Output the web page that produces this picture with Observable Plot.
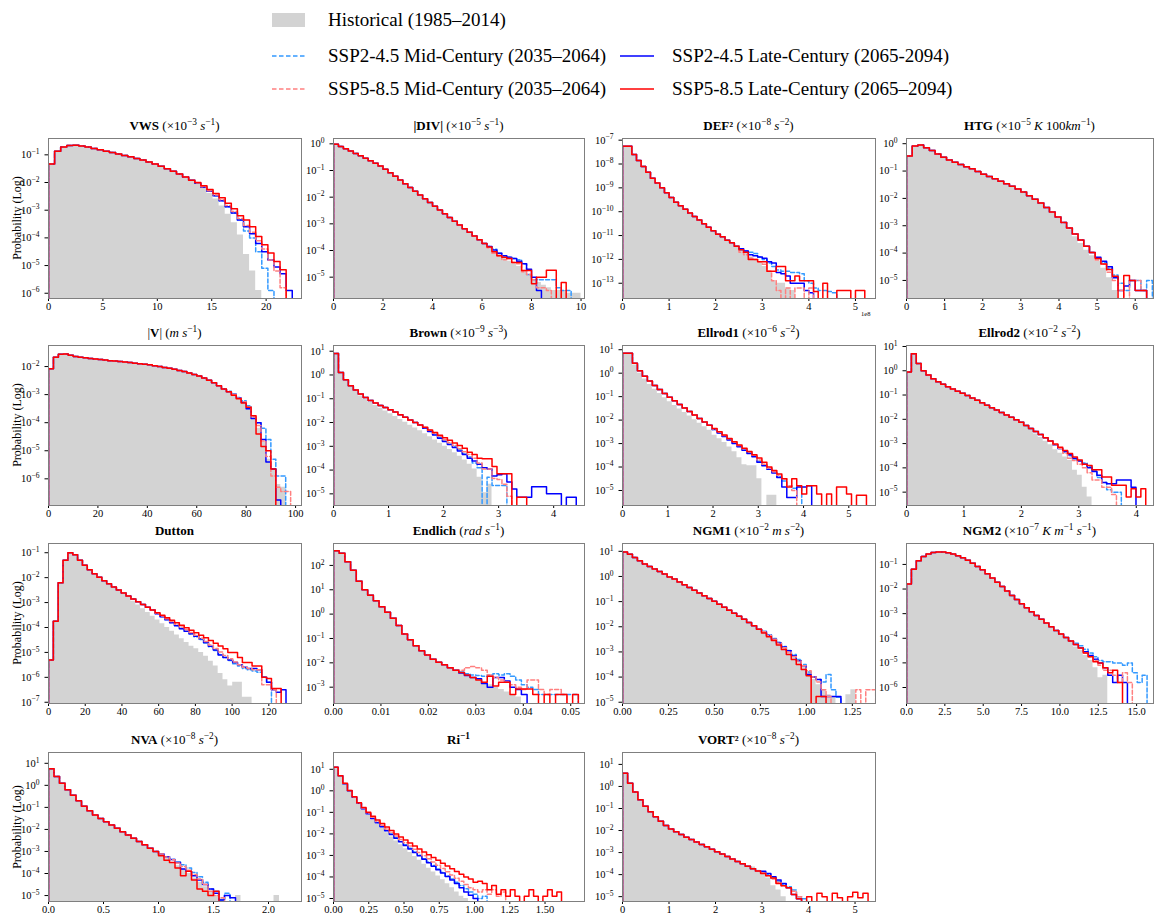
<!DOCTYPE html>
<html><head><meta charset="utf-8">
<script src="https://cdn.jsdelivr.net/npm/d3@7"></script>
<script src="https://cdn.jsdelivr.net/npm/@observablehq/plot@0.6"></script>
<style>
body{margin:0;background:#fff;}
#fig{position:relative;width:1156px;height:914px;overflow:hidden;font-family:"Liberation Serif","DejaVu Serif",serif;color:#000;}
.abs{position:absolute;}
.ttl{position:absolute;width:300px;text-align:center;font-size:13px;line-height:14px;white-space:nowrap;}
.ttl sup{font-size:0.72em;line-height:0;}
.ylab{position:absolute;width:200px;text-align:center;font-size:12px;line-height:14px;transform:rotate(-90deg);}
.leg{position:absolute;font-size:19px;line-height:22px;white-space:nowrap;}
svg{overflow:visible;}
</style></head>
<body><div id="fig"></div>
<script>
// ---------- DATA: log10(probability) per histogram bin (null = empty bin) ----------
// VWS, bin width 0.56
const vwsBody=[-1.33,-0.87,-0.72,-0.66,-0.65,-0.68,-0.72,-0.77,-0.82,-0.87,-0.92,-0.97,-1.02,-1.07,-1.13,-1.19,-1.26,-1.33,-1.41,-1.50,-1.59,-1.69,-1.80,-1.92];
const vwsHistTail=[-2.06,-2.22,-2.4,-2.6,-2.85,-3.15,-3.45,-3.9,-4.6,-5.2,-5.9];
const vwsM245Tail=[-2.03,-2.17,-2.32,-2.48,-2.66,-2.88,-3.1,-3.35,-3.75,-4.0,-4.5,-5.1,-5.9];
const vwsL245Tail=[-2.03,-2.17,-2.32,-2.48,-2.66,-2.88,-3.1,-3.35,-3.6,-3.85,-4.2,-4.5,-4.8,-5.05,-5.3,-5.9];
const vwsM585Tail=[-2.02,-2.15,-2.3,-2.45,-2.62,-2.83,-3.05,-3.3,-3.55,-3.8,-4.1,-4.4,-4.8,-5.2,-5.8];
const vwsL585Tail=[-2.0,-2.12,-2.25,-2.4,-2.55,-2.75,-2.95,-3.2,-3.35,-3.6,-3.95,-4.25,-4.55,-4.85,-5.15];
// |DIV|, bin width 0.2
const divBody=[-0.02,-0.1,-0.18,-0.27,-0.36,-0.45,-0.54,-0.63,-0.73,-0.83,-0.95,-1.08,-1.22,-1.36,-1.5,-1.64,-1.78,-1.92,-2.06,-2.2,-2.34,-2.48,-2.62,-2.76,-2.9,-3.04,-3.18,-3.32,-3.46,-3.6,-3.74];
const divHistTail=[-3.9,-4.05,-4.15,-4.25,-4.4,-4.5,-4.6,-4.75,-4.9,-5.1,-5.2,-5.3,-5.4,-5.5,-5.5,-5.5,-5.6,-5.6,-5.6];
const divM245Tail=[-3.85,-3.95,-4.1,-4.2,-4.25,-4.3,-4.35,-4.5,-4.9,-5.1,-5.1,-5.1,-5.1,-5.1,-5.4,-5.5,-5.5];
const divL245Tail=[-3.85,-3.98,-4.1,-4.2,-4.25,-4.3,-4.4,-4.5,-4.7,-5.0,-5.5];
const divM585Tail=[-3.9,-4.1,-4.2,-4.35,-4.3,-4.45,-4.5,-4.8,-4.9,-5.1,-5.4,-5.4,-5.5];
const divL585Tail=[-3.87,-4.05,-4.2,-4.25,-4.3,-4.45,-4.45,-4.75,-4.75,-5.25,-5.0,-5.0,-4.74,-4.74,null,-5.2];
// DEF², bin width 0.1
const defBody=[-7.25,-7.25,-7.6,-7.85,-8.1,-8.35,-8.6,-8.8,-9.0,-9.2,-9.4,-9.6,-9.75,-9.9,-10.05,-10.2,-10.35,-10.5,-10.65,-10.8,-10.95,-11.05,-11.2,-11.3,-11.45];
const defHistTail=[-11.6,-11.75,-11.9,-12.0,-12.15,-12.3,-12.5,-12.9,-13.0,-13.0,-13.2,-13.3];
const defM245Tail=[-11.6,-11.65,-11.7,-11.75,-11.9,-12.0,-12.15,-12.3,-12.45,-12.5,-12.5,-12.55,-12.55,-12.6,-12.9,-13.0,-13.2,-13.3,-13.3,-13.35,-13.4];
const defL245Tail=[-11.55,-11.65,-11.8,-11.85,-11.9,-11.95,-12.1,-12.15,-12.55,-12.6,-12.7,-13.0,-13.0,-13.0,-13.3,-13.4];
const defM585Tail=[-11.7,-11.8,-11.95,-12.0,-12.1,-12.2,-12.5,-12.9,-13.3,null,-13.2,null,-13.2,-13.2,null,-13.2];
const defL585Tail=[-11.6,-11.7,-12.0,-12.0,-12.1,-12.1,-12.5,-12.5,-12.3,-12.3,-12.9,-12.9,-12.7,-12.9,-12.9,-12.9,-13.35,null,-13.0,null,null,-13.3,-13.3,-13.3,null,-13.3,-13.3];
// HTG, bin width 0.15
const htgBody=[-0.45,-0.08,-0.05,-0.15,-0.25,-0.38,-0.5,-0.6,-0.68,-0.76,-0.84,-0.92,-1.02,-1.12,-1.2,-1.28,-1.37,-1.46,-1.56,-1.66,-1.77,-1.9,-2.03,-2.17,-2.33,-2.5,-2.68,-2.88,-3.08,-3.3,-3.52,-3.75,-3.98];
const htgHistTail=[-2.95,-3.15,-3.4,-3.65,-3.9,-4.1,-4.3,-4.55,-4.9,-5.37];
const htgM245Tail=[-4.2,-4.35,-4.55,-4.8,-5.1,-5.37,-5.0,-5.0,-5.37,-5.0];
const htgL245Tail=[-4.15,-4.3,-4.5,-4.9,-5.37,-5.2,-5.0,-5.37,-5.37];
const htgM585Tail=[-4.25,-4.4,-4.7,-5.0,-5.37,null,-5.0,-5.0,-5.37];
const htgL585Tail=[-4.2,-4.4,-4.6,-4.85,null,-4.82,-5.0,-5.37,-5.37];
// |V|, bin width 2
const wsBody=[-2.08,-1.67,-1.56,-1.55,-1.6,-1.64,-1.67,-1.69,-1.71,-1.73,-1.75,-1.77,-1.79,-1.8,-1.82,-1.84,-1.86,-1.88,-1.9,-1.92,-1.94,-1.97,-2.0,-2.03,-2.06,-2.1,-2.14,-2.18,-2.23,-2.28,-2.34,-2.41,-2.49,-2.58,-2.68,-2.8];
const wsHistTail=[-2.9,-3.02,-3.15,-3.3,-3.5,-3.85,-4.2,-4.7,-5.3,-5.7,-6.2,-6.3];
const wsM245Tail=[-2.88,-2.98,-3.1,-3.22,-3.4,-3.8,-4.0,-4.2,-4.6,-5.3,-5.9,-5.9];
const wsL245Tail=[-2.9,-3.0,-3.12,-3.27,-3.5,-3.85,-4.0,-4.6,-5.4,-5.65,-6.75];
const wsM585Tail=[-2.9,-3.0,-3.12,-3.25,-3.45,-3.8,-4.1,-4.65,-5.2,-5.9,-6.3,-6.45,-6.45];
const wsL585Tail=[-2.9,-3.02,-3.15,-3.3,-3.45,-3.75,-4.4,-4.85,-5.0,-5.65];
// Brown, bin width 0.09
const brownHist=[0.9,0.1,-0.22,-0.5,-0.7,-0.88,-1.03,-1.16,-1.28,-1.4,-1.52,-1.63,-1.75,-1.87,-1.99,-2.11,-2.23,-2.35,-2.47,-2.6,-2.73,-2.87,-3.0,-3.13,-3.27,-3.42,-3.58,-3.75,-3.95,-4.3,-4.95,-4.6];
const brownBody=[0.9,0.1,-0.2,-0.45,-0.63,-0.8,-0.95,-1.07,-1.18,-1.28,-1.37,-1.46,-1.56,-1.67,-1.78,-1.89,-2.0,-2.1];
const brownM245Tail=[-2.22,-2.35,-2.48,-2.62,-2.78,-2.9,-3.0,-3.15,-3.3,-3.45,-3.7,-3.9,null,-4.3,-4.65,-4.65,-4.65];
const brownL245Tail=[-2.24,-2.38,-2.52,-2.66,-2.8,-2.92,-3.05,-3.2,-3.35,-3.5,-3.62,-3.75,-3.9,-3.95,-4.25,-4.2,-4.15,-4.5,-4.8,-5.14,-5.14,-5.14,-4.7,-4.7,-4.7,-5.0,-5.0,-5.0,null,-5.14,-5.14];
const brownM585Tail=[-2.21,-2.33,-2.45,-2.58,-2.72,-2.85,-2.97,-3.1,-3.23,-3.35,-3.5,-3.7,-3.95,-3.95,-4.35,-4.4,-4.6,-5.1];
const brownL585Tail=[-2.2,-2.31,-2.42,-2.53,-2.64,-2.75,-2.86,-2.97,-3.08,-3.25,-3.35,-3.5,-3.52,-3.52,-3.85,-4.15,-4.15,-4.15,null,-5.14,-5.14];
// Ellrod1, bin width 0.11
const e1Hist=[0.85,0.85,0.35,0.0,-0.25,-0.48,-0.68,-0.87,-1.05,-1.22,-1.38,-1.53,-1.68,-1.83,-1.98,-2.13,-2.28,-2.43,-2.65,-2.8,-2.95,-3.15,-3.35,-3.6,-3.9,-3.95,-3.95,-4.5,null,-5.2,-5.2];
const e1Body=[0.85,0.85,0.42,0.1,-0.13,-0.33,-0.52,-0.7,-0.87,-1.03,-1.18,-1.33,-1.48,-1.63,-1.78,-1.93,-2.08,-2.22];
const e1M245Tail=[-2.4,-2.54,-2.68,-2.82,-2.96,-3.1,-3.24,-3.38,-3.52,-3.75,-3.9,-4.05,-4.2,-4.4,-4.6,-4.8,-4.9,-4.8];
const e1L245Tail=[-2.4,-2.55,-2.7,-2.85,-3.0,-3.14,-3.28,-3.42,-3.56,-3.8,-3.95,-4.1,-4.25,-4.45,-4.85,-5.3,-5.3,-4.85,-4.85,-4.8];
const e1M585Tail=[-2.38,-2.52,-2.66,-2.8,-2.94,-3.08,-3.22,-3.36,-3.5,-3.7,-3.88,-4.05,-4.2,-4.35,-4.5,-4.8,-5.0];
const e1L585Tail=[-2.36,-2.5,-2.64,-2.78,-2.92,-3.06,-3.2,-3.34,-3.48,-3.62,-3.8,-4.0,-4.15,-4.3,-4.5,-4.85,-4.5,-4.8,-5.15,-4.8,-4.8,-5.15,null,-5.15,null,-4.85,-4.85,-5.15,null,-5.2,-5.2];
// Ellrod2, bin width 0.085
const e2Body=[-0.05,0.7,0.3,0.0,-0.18,-0.33,-0.45,-0.56,-0.66,-0.75,-0.84,-0.93,-1.02,-1.12,-1.22,-1.32,-1.42,-1.52,-1.62,-1.72,-1.82,-1.92,-2.02,-2.12,-2.25,-2.38,-2.5,-2.63,-2.76,-2.89];
const e2HistTail=[-2.6,-2.75,-2.9,-3.05,-3.25,-3.4,-3.55,-3.7,-4.1,-4.3,-4.8,-5.2];
const e2M245Tail=[-3.05,-3.2,-3.35,-3.5,-3.63,-3.7,-3.8,-3.95,-4.1,-4.4,-4.6,-4.9,-5.0,-5.0];
const e2L245Tail=[-3.05,-3.2,-3.33,-3.46,-3.6,-3.72,-3.85,-4.0,-4.15,-4.3,-4.6,-4.65,-4.65,-4.5,-4.5,-4.5,-4.8];
const e2M585Tail=[-3.05,-3.2,-3.4,-3.6,-3.7,-3.85,-4.0,-4.2,-4.5,-4.5,-4.8,-4.8,-5.1];
const e2L585Tail=[-3.02,-3.15,-3.28,-3.41,-3.55,-3.68,-3.85,-3.9,-4.08,-4.08,-4.38,-4.38,-4.72,-4.72,-4.72,-5.2,-4.86,-5.2,-4.86];
// Dutton, bin width 2.64
const dutBody=[-5.3,-3.75,-2.2,-1.3,-1.0,-1.08,-1.3,-1.5,-1.68,-1.84,-1.98,-2.12,-2.25,-2.38,-2.5,-2.62,-2.74,-2.86,-2.97,-3.08,-3.19,-3.3];
const dutHistTail=[-2.8,-2.95,-3.1,-3.25,-3.4,-3.55,-3.7,-3.85,-4.0,-4.15,-4.3,-4.45,-4.6,-4.75,-4.85,-5.0,-5.15,-5.35,-5.55,-5.85,-6.1,-6.35,-6.2,-6.2,-6.8,-6.8];
const dutM245Tail=[-3.44,-3.56,-3.68,-3.8,-3.92,-4.04,-4.15,-4.26,-4.37,-4.48,-4.62,-4.77,-4.92,-5.08,-5.2,-5.32,-5.45,-5.55,-5.65,-5.7,-5.75,-5.8,-6.0,-6.2];
const dutL245Tail=[-3.45,-3.57,-3.69,-3.81,-3.93,-4.05,-4.15,-4.25,-4.35,-4.45,-4.6,-4.75,-4.9,-5.1,-5.2,-5.3,-5.4,-5.5,-5.6,-5.65,-5.65,-5.7,-6.0,-6.2,-6.5,-6.6,-6.5];
const dutM585Tail=[-3.43,-3.54,-3.65,-3.76,-3.87,-3.98,-4.09,-4.2,-4.31,-4.43,-4.56,-4.7,-4.84,-4.98,-5.12,-5.25,-5.38,-5.5,-5.6,-5.65,-5.7,-5.7,-6.3,-6.3,-6.5];
const dutL585Tail=[-3.41,-3.51,-3.61,-3.71,-3.81,-3.91,-4.01,-4.11,-4.21,-4.31,-4.41,-4.52,-4.63,-4.74,-4.85,-5.0,-5.0,-5.2,-5.4,-5.4,-5.55,-5.55,-6.0,-6.05,-6.45,-6.45];
// Endlich, bin width 0.0012
const endBody=[2.6,2.5,2.15,1.8,1.35,1.0,0.78,0.55,0.3,0.08,-0.17,-0.47,-0.82,-1.05,-1.3,-1.5,-1.68,-1.85,-1.98,-2.08,-2.2,-2.3];
const endHistTail=[-2.4,-2.5,-2.6,-2.7,-2.8,-2.9,-3.0,-3.1,-3.2,-3.3,-3.4];
const endM245Tail=[-2.38,-2.45,-2.5,-2.52,-2.55,-2.5,-2.45,-2.5,-2.45,-2.55,-2.7,-2.9,-3.0,-3.1,-3.3,-3.3,-3.3,-3.3,-3.3,-3.3,-3.3];
const endL245Tail=[-2.42,-2.52,-2.6,-2.65,-2.85,-3.0,-2.6,-2.6,-2.75,-3.0,-3.1,-3.3];
const endM585Tail=[-2.3,-2.2,-2.15,-2.2,-2.3,-2.5,-2.6,-2.7,-2.8,-2.9,-3.0,-3.1,-2.7,-2.7,-3.1,-3.3,-3.1,-3.1,-3.3];
const endL585Tail=[-2.4,-2.5,-2.6,-2.7,-2.8,-2.55,-2.95,-2.8,-2.8,-3.3,-3.07,-3.07,-3.07,-3.3,null,-3.3,null,-3.3,-3.3,null,-3.3];
// NGM1, bin width 0.027
const n1Body=[0.97,0.88,0.75,0.62,0.5,0.4,0.3,0.2,0.1,-0.02,-0.1,-0.22,-0.33,-0.44,-0.55,-0.66,-0.77,-0.88,-0.99,-1.1,-1.22,-1.34,-1.46,-1.58,-1.7,-1.83,-1.96,-2.1];
const n1HistTail=[-2.22,-2.37,-2.52,-2.68,-2.85,-3.02,-3.2,-3.4,-3.6,-3.8,-4.1,-4.3,-4.5,-4.7,-4.77,null,null,-4.7,-4.5];
const n1M245Tail=[-2.18,-2.32,-2.47,-2.62,-2.78,-2.94,-3.1,-3.3,-3.5,-3.8,-4.0,-4.1,-4.2,-3.9,-4.5,-4.8];
const n1L245Tail=[-2.2,-2.35,-2.5,-2.65,-2.8,-2.95,-3.15,-3.35,-3.55,-3.9,-4.0,-4.1,-4.77,-4.77,-4.77,-4.77];
const n1M585Tail=[-2.2,-2.35,-2.5,-2.66,-2.83,-3.0,-3.18,-3.36,-3.55,-3.75,-4.0,-4.2,-4.5,-4.77,null,null,null,null,null,-4.5,null,-4.5,-4.5];
const n1L585Tail=[-2.25,-2.4,-2.55,-2.72,-2.9,-3.1,-3.3,-3.5,-3.7,-3.95,null,-4.77,-4.77];
// NGM2, bin width 0.32
const n2Body=[-1.8,-1.2,-0.85,-0.68,-0.58,-0.52,-0.5,-0.5,-0.53,-0.58,-0.65,-0.73,-0.83,-0.95,-1.08,-1.22,-1.38,-1.55,-1.72,-1.9,-2.08,-2.26,-2.43,-2.6,-2.76,-2.92,-3.08,-3.23,-3.38,-3.53,-3.68,-3.83,-3.97,-4.11];
const n2HistTail=[-4.35,-4.5,-4.7,-4.9,-5.2,-5.6,-5.5];
const n2M245Tail=[-4.2,-4.3,-4.45,-4.6,-4.75,-4.9,-4.95,-4.95,-5.0,-5.0,-5.1,-5.0,-5.4,-5.8,-5.5];
const n2L245Tail=[-4.25,-4.4,-4.55,-4.7,-4.85,-5.0,-5.2,-5.5,-5.8,-5.5,-5.8];
const n2M585Tail=[-4.25,-4.42,-4.6,-4.75,-4.9,-5.1,-5.3,-5.3,-5.5,-5.8,-5.4,-5.8];
const n2L585Tail=[-4.25,-4.4,-4.6,-4.75,-4.95,-5.0,-5.2,-5.4,-5.3,-5.8];
// NVA, bin width 0.05
const nvaBody=[0.75,0.4,0.1,-0.2,-0.45,-0.7,-0.95,-1.15,-1.35,-1.5,-1.65,-1.8,-1.95,-2.1,-2.25,-2.4,-2.55,-2.7,-2.85,-3.0];
const nvaHistTail=[-3.15,-3.3,-3.5,-3.65,-3.8,-4.0,-4.2,-4.4,-4.6,-4.8,-5.0,-5.1,null,null,-5.0,null,null,null,null,null,null,-5.0];
const nvaM245Tail=[-3.12,-3.24,-3.36,-3.48,-3.6,-3.75,-3.95,-4.15,-4.4,-4.7,-4.8,-5.2,-4.9];
const nvaL245Tail=[-3.12,-3.24,-3.36,-3.5,-3.8,-3.9,-4.1,-4.3,-4.5,-4.7,-4.9,-5.2,-5.0,-5.1];
const nvaM585Tail=[-3.12,-3.25,-3.38,-3.52,-3.68,-3.85,-4.05,-4.25,-4.5,-4.8,-5.0,-5.1];
const nvaL585Tail=[-3.2,-3.4,-3.5,-3.75,-4.1,-3.9,-4.3,-4.7,-4.8,-5.0,-4.8];
// Ri⁻¹, bin width 0.033
const riHead=[1.1,0.7];
const riHistTail=[0.32,-0.02,-0.33,-0.62,-0.88,-1.12,-1.34,-1.55,-1.75,-1.95,-2.14,-2.33,-2.51,-2.69,-2.87,-3.05,-3.23,-3.41,-3.59,-3.77,-3.95,-4.13,-4.31,-4.5,-4.7,-4.9,-5.0];
const riM245Tail=[0.33,0.0,-0.3,-0.57,-0.82,-1.05,-1.27,-1.47,-1.66,-1.84,-2.01,-2.18,-2.35,-2.51,-2.67,-2.83,-2.99,-3.15,-3.31,-3.47,-3.63,-3.79,-3.95,-4.1,-4.25,-4.4,-4.55,-4.7,-4.8,-5.0,-4.9];
const riL245Tail=[0.33,0.0,-0.3,-0.58,-0.83,-1.06,-1.28,-1.48,-1.67,-1.85,-2.03,-2.2,-2.37,-2.54,-2.7,-2.86,-3.02,-3.18,-3.34,-3.5,-3.66,-3.82,-3.98,-4.14,-4.3,-4.5,-4.7,-4.85,-5.0];
const riM585Tail=[0.34,0.01,-0.29,-0.56,-0.8,-1.03,-1.23,-1.42,-1.6,-1.77,-1.94,-2.1,-2.26,-2.41,-2.56,-2.71,-2.86,-3.01,-3.16,-3.31,-3.46,-3.61,-3.76,-3.91,-4.06,-4.2,-4.35,-4.5,-4.6,-4.7,-4.6,-4.8,-4.6,-4.9,-4.7];
const riL585Tail=[0.35,0.02,-0.28,-0.55,-0.78,-1.0,-1.18,-1.35,-1.52,-1.68,-1.84,-2.0,-2.14,-2.28,-2.42,-2.56,-2.7,-2.84,-2.97,-3.1,-3.23,-3.36,-3.49,-3.62,-3.75,-3.88,-4.0,-4.1,-4.25,-4.2,-4.3,-4.6,-4.4,-4.8,-4.6,-4.9,-4.6,-4.9,null,-4.9,-4.6,-4.9,null,-4.9,-4.6,-4.9,-4.7];
// VORT², bin width 0.11
const vortBody=[0.6,0.15,-0.25,-0.6,-0.9,-1.15,-1.38,-1.58,-1.77,-1.93,-2.06,-2.18,-2.3,-2.41,-2.52,-2.63,-2.74,-2.85,-2.96,-3.07,-3.18,-3.29,-3.4,-3.51,-3.62,-3.73,-3.84];
const vortHistTail=[-3.65,-3.8,-3.95,-4.15,-4.5,-4.7,-5.0];
const vortM245Tail=[-3.9,-4.0,-4.15,-4.3,-4.45,-4.55,-4.7,-5.0,-5.1];
const vortL245Tail=[-3.85,-3.95,-4.1,-4.25,-4.4,-4.6,-4.9,-5.1];
const vortM585Tail=[-3.92,-4.05,-4.2,-4.35,-4.5,-4.6,-4.75,-5.0];
const vortL585Tail=[-3.95,-4.05,-4.15,-4.4,-4.5,-4.6,-4.9,-5.1,null,-5.0,null,-4.85,-5.0,null,-4.85,-5.05,null,-5.0,-4.8,-5.05,-4.85];

const seriesNames=["Historical (1985–2014)","SSP2-4.5 Mid-Century (2035–2064)","SSP2-4.5 Late-Century (2065-2094)","SSP5-8.5 Mid-Century (2035–2064)","SSP5-8.5 Late-Century (2065–2094)"];

// series = { hist, m245, l245, m585, l585 }, bodies shared where curves coincide
function S(body, hist, m245, l245, m585, l585, histBodyLen) {
  const hb = histBodyLen == null ? body.length : histBodyLen;
  return {
    hist: hist.full ? hist.full : body.slice(0, hb).concat(hist),
    m245: body.concat(m245), l245: body.concat(l245), m585: body.concat(m585), l585: body.concat(l585)
  };
}
const full = a => ({full: a});

const PANELS = [
  {col:0,row:0,title:'<b>VWS</b> (×10<sup>−3</sup> <i>s</i><sup>−1</sup>)',w:0.56,xmax:23.25,ylog:[-6.19,-0.41],xt:[0,5,10,15,20],xf:"d",
   s:S(vwsBody,vwsHistTail,vwsM245Tail,vwsL245Tail,vwsM585Tail,vwsL585Tail)},
  {col:1,row:0,title:'<b>|DIV|</b> (×10<sup>−5</sup> <i>s</i><sup>−1</sup>)',w:0.2,xmax:10.14,ylog:[-5.8,0.2],xt:[0,2,4,6,8,10],xf:"d",
   s:S(divBody,divHistTail,divM245Tail,divL245Tail,divM585Tail,divL585Tail)},
  {col:2,row:0,title:'<b>DEF²</b> (×10<sup>−8</sup> <i>s</i><sup>−2</sup>)',w:0.1,xmax:5.43,ylog:[-13.64,-6.93],xt:[0,1,2,3,4,5],xf:"d",
   s:S(defBody,defHistTail,defM245Tail,defL245Tail,defM585Tail,defL585Tail)},
  {col:3,row:0,title:'<b>HTG</b> (×10<sup>−5</sup> <i>K</i> 100<i>km</i><sup>−1</sup>)',w:0.15,xmax:6.48,ylog:[-5.66,0.19],xt:[0,1,2,3,4,5,6],xf:"d",
   s:S(htgBody.slice(0,33),htgHistTail,htgM245Tail,htgL245Tail,htgM585Tail,htgL585Tail,27)},
  {col:0,row:1,title:'|<b>V</b>| (<i>m s</i><sup>−1</sup>)',w:2,xmax:102.4,ylog:[-6.95,-1.25],xt:[0,20,40,60,80,100],xf:"d",
   s:S(wsBody,wsHistTail,wsM245Tail,wsL245Tail,wsM585Tail,wsL585Tail)},
  {col:1,row:1,title:'<b>Brown</b> (×10<sup>−9</sup> <i>s</i><sup>−3</sup>)',w:0.09,xmax:4.56,ylog:[-5.49,1.24],xt:[0,1,2,3,4],xf:"d",
   s:S(brownBody,full(brownHist),brownM245Tail,brownL245Tail,brownM585Tail,brownL585Tail)},
  {col:2,row:1,title:'<b>Ellrod1</b> (×10<sup>−6</sup> <i>s</i><sup>−2</sup>)',w:0.11,xmax:5.59,ylog:[-5.64,1.18],xt:[0,1,2,3,4,5],xf:"d",
   s:S(e1Body,full(e1Hist),e1M245Tail,e1L245Tail,e1M585Tail,e1L585Tail)},
  {col:3,row:1,title:'<b>Ellrod2</b> (×10<sup>−2</sup> <i>s</i><sup>−2</sup>)',w:0.085,xmax:4.3,ylog:[-5.55,1.04],xt:[0,1,2,3,4],xf:"d",
   s:S(e2Body,e2HistTail,e2M245Tail,e2L245Tail,e2M585Tail,e2L585Tail,26)},
  {col:0,row:2,title:'<b>Dutton</b>',w:2.64,xmax:137.8,ylog:[-7.05,-0.63],xt:[0,20,40,60,80,100,120],xf:"d",
   s:S(dutBody,dutHistTail,dutM245Tail,dutL245Tail,dutM585Tail,dutL585Tail,16)},
  {col:1,row:2,title:'<b>Endlich</b> (<i>rad s</i><sup>−1</sup>)',w:0.0012,xmax:0.0529,ylog:[-3.67,2.9],xt:[0,0.01,0.02,0.03,0.04,0.05],xf:".2f",
   s:S(endBody,endHistTail,endM245Tail,endL245Tail,endM585Tail,endL585Tail)},
  {col:2,row:2,title:'<b>NGM1</b> (×10<sup>−2</sup> <i>m s</i><sup>−2</sup>)',w:0.027,xmax:1.376,ylog:[-5.05,1.31],xt:[0,0.25,0.5,0.75,1,1.25],xf:".2f",
   s:S(n1Body,n1HistTail,n1M245Tail,n1L245Tail,n1M585Tail,n1L585Tail)},
  {col:3,row:2,title:'<b>NGM2</b> (×10<sup>−7</sup> <i>K m</i><sup>−1</sup> <i>s</i><sup>−1</sup>)',w:0.32,xmax:16.1,ylog:[-6.65,-0.15],xt:[0,2.5,5,7.5,10,12.5,15],xf:".1f",
   s:S(n2Body,n2HistTail,n2M245Tail,n2L245Tail,n2M585Tail,n2L585Tail)},
  {col:0,row:3,title:'<b>NVA</b> (×10<sup>−8</sup> <i>s</i><sup>−2</sup>)',w:0.05,xmax:2.3,ylog:[-5.27,1.49],xt:[0,0.5,1,1.5,2],xf:".1f",
   s:S(nvaBody,nvaHistTail,nvaM245Tail,nvaL245Tail,nvaM585Tail,nvaL585Tail)},
  {col:1,row:3,title:'<b>Ri<sup>−1</sup></b>',w:0.033,xmax:1.78,ylog:[-5.14,1.78],xt:[0,0.25,0.5,0.75,1,1.25,1.5],xf:".2f",
   s:S(riHead,riHistTail,riM245Tail,riL245Tail,riM585Tail,riL585Tail)},
  {col:2,row:3,title:'<b>VORT²</b> (×10<sup>−8</sup> <i>s</i><sup>−2</sup>)',w:0.11,xmax:5.44,ylog:[-5.22,1.54],xt:[0,1,2,3,4,5],xf:"d",
   s:S(vortBody,vortHistTail,vortM245Tail,vortL245Tail,vortM585Tail,vortL585Tail,25)}
];

// ---------- LAYOUT / STYLE ----------
const COLS=[[48,301],[333,584],[622,875],[906,1153]];
const ROWS=[[138,298],[345,505],[543,703],[752,901]];
const MG={top:6,right:10,bottom:24,left:46};
const C={hist:"#d3d3d3",m245:"#3399ff",l245:"#0000ff",m585:"#ff8080",l585:"#ff0000"};
const FONT='"Liberation Serif","DejaVu Serif",serif';
const fig=document.getElementById("fig");
const NS="http://www.w3.org/2000/svg";

function stepPts(w, vals){
  const tiny=1e-30, pts=[{x:0,y:tiny}];
  vals.forEach((v,i)=>pts.push({x:i*w,y:v==null?tiny:Math.pow(10,v)}));
  pts.push({x:vals.length*w,y:tiny});
  return pts;
}

function supLabels(svg){
  svg.querySelectorAll("text").forEach(t=>{
    const s=t.textContent;
    if(!s.startsWith("10^")) return;
    const e=s.slice(3).replace("-","\u2212");
    t.textContent="";
    const a=document.createElementNS(NS,"tspan"); a.textContent="10";
    const b=document.createElementNS(NS,"tspan"); b.textContent=e;
    b.setAttribute("dy","-0.55em"); b.setAttribute("font-size","0.72em");
    t.append(a,b);
  });
}

PANELS.forEach(p=>{
  const [L,R]=COLS[p.col], [T,B]=ROWS[p.row];
  const W=R-L+MG.left+MG.right, H=B-T+MG.top+MG.bottom;
  const ymin=Math.pow(10,p.ylog[0]);
  const yt=[]; for(let e=Math.ceil(p.ylog[0]);e<=Math.floor(p.ylog[1]);e++) yt.push(Math.pow(10,e));
  const line=(k,dash)=>Plot.line(stepPts(p.w,p.s[k]),{x:"x",y:"y",curve:"step-after",stroke:C[k],strokeWidth:1.5,strokeDasharray:dash?"4,2.2":null,clip:true});
  const svg=Plot.plot({
    width:W,height:H,marginTop:MG.top,marginRight:MG.right,marginBottom:MG.bottom,marginLeft:MG.left,
    style:{fontFamily:FONT,fontSize:"10.5px",color:"#000",background:"transparent",overflow:"visible"},
    x:{domain:[0,p.xmax],ticks:p.xt,tickFormat:d3.format(p.xf),tickSize:3,tickPadding:1,label:null},
    y:{type:"log",domain:[ymin,Math.pow(10,p.ylog[1])],ticks:yt,tickFormat:d=>"10^"+Math.round(Math.log10(d)),tickSize:3.5,label:null},
    marks:[
      Plot.areaY(stepPts(p.w,p.s.hist),{x:"x",y1:ymin,y2:d=>Math.max(d.y,ymin),curve:"step-after",fill:C.hist,clip:true}),
      line("m245",true),line("l245",false),line("m585",true),line("l585",false),
      Plot.frame({stroke:"#7f7f7f",strokeWidth:1})
    ]
  });
  supLabels(svg);
  svg.style.position="absolute"; svg.style.left=(L-MG.left)+"px"; svg.style.top=(T-MG.top)+"px";
  fig.appendChild(svg);
  const t=document.createElement("div"); t.className="ttl"; t.innerHTML=p.title;
  t.style.left=((L+R)/2-150)+"px"; t.style.top=(T-19)+"px"; fig.appendChild(t);
  if(p.col===0){
    const y=document.createElement("div"); y.className="ylab"; y.textContent="Probability (Log)";
    y.style.left=(17-100)+"px"; y.style.top=((T+B)/2-7)+"px"; fig.appendChild(y);
  }
});

// offset text of DEF² panel
const off=document.createElement("div"); off.className="abs"; off.textContent="1e8";
Object.assign(off.style,{left:"861px",top:"310px",fontSize:"6.5px",lineHeight:"7px"}); fig.appendChild(off);

// ---------- LEGEND ----------
function legLine(x,y,color,dash){
  const s=document.createElementNS(NS,"svg"); s.setAttribute("width",36); s.setAttribute("height",6);
  s.style.position="absolute"; s.style.left=x+"px"; s.style.top=(y-3)+"px";
  const l=document.createElementNS(NS,"line"); l.setAttribute("x1",1); l.setAttribute("x2",35); l.setAttribute("y1",3); l.setAttribute("y2",3);
  l.setAttribute("stroke",color); l.setAttribute("stroke-width",1.7); if(dash) l.setAttribute("stroke-dasharray","4.5,2.5");
  s.appendChild(l); fig.appendChild(s);
}
function legText(x,y,txt){const d=document.createElement("div"); d.className="leg"; d.textContent=txt; d.style.left=x+"px"; d.style.top=(y-11)+"px"; fig.appendChild(d);}
const patch=document.createElement("div"); patch.className="abs";
Object.assign(patch.style,{left:"272px",top:"13px",width:"33px",height:"14px",background:C.hist}); fig.appendChild(patch);
legText(328,20,seriesNames[0]);
legLine(271,56,C.m245,true); legText(328,56,seriesNames[1]);
legLine(619,56,C.l245,false); legText(672,56,seriesNames[2]);
legLine(271,89,C.m585,true); legText(328,89,seriesNames[3]);
legLine(619,89,C.l585,false); legText(672,89,seriesNames[4]);
</script></body></html>
